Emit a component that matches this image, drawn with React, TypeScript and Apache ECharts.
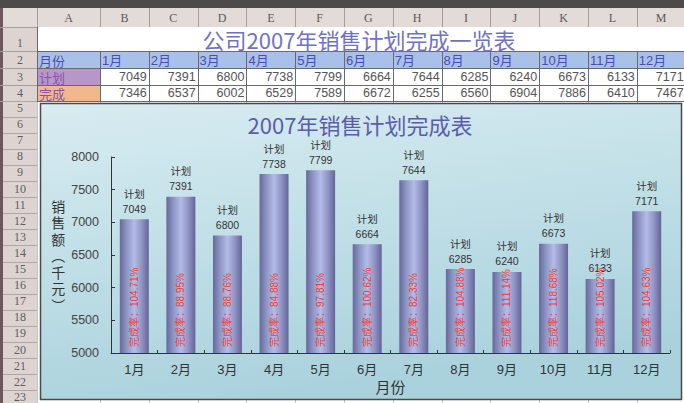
import React, { useEffect, useRef } from 'react';
import * as echarts from 'echarts';

const months = ['1月', '2月', '3月', '4月', '5月', '6月', '7月', '8月', '9月', '10月', '11月', '12月'];
const planValues = [7049, 7391, 6800, 7738, 7799, 6664, 7644, 6285, 6240, 6673, 6133, 7171];
const actualValues = [7346, 6537, 6002, 6529, 7589, 6672, 6255, 6560, 6904, 7886, 6410, 7467];
const completionRates = ['104.71', '88.95', '88.76', '84.88', '97.81', '100.62', '82.33', '104.88', '111.14', '118.68', '105.02', '104.63'];
const yMin = 5000;
const yMax = 8000;
const yStep = 500;
const columnLetters = ['A', 'B', 'C', 'D', 'E', 'F', 'G', 'H', 'I', 'J', 'K', 'L', 'M'];
const rowLabels = ['月份', '计划', '完成'];
const sheetTitle = '公司2007年销售计划完成一览表';
const chartTitle = '2007年销售计划完成表';
const yAxisTitle = '销售额（千元）';
const xAxisTitle = '月份';

const CJK = '"Noto Sans CJK SC", sans-serif';
const LAT = '"Liberation Sans", "Noto Sans CJK SC", sans-serif';
const SERIF = '"Liberation Serif", "DejaVu Serif", serif';

function colStart(i: number) {
  return i === 0 ? 37 : 100 + (i - 1) * 48.8;
}
function colEnd(i: number) {
  return i === 0 ? 100 : 100 + i * 48.8;
}

function buildSheet(): any[] {
  const els: any[] = [];
  const W = 684;
  const H = 403;
  els.push({ type: 'rect', shape: { x: 0, y: 0, width: W, height: H }, style: { fill: '#ffffff' } });
  els.push({ type: 'rect', shape: { x: 37, y: 51, width: W - 37, height: 17 }, style: { fill: '#a9c0e9' } });
  els.push({ type: 'rect', shape: { x: 37, y: 68, width: 63, height: 17 }, style: { fill: '#b996c9' } });
  els.push({ type: 'rect', shape: { x: 37, y: 85, width: 63, height: 16 }, style: { fill: '#f1b98b' } });
  els.push({ type: 'rect', shape: { x: 0, y: 0, width: W, height: 8 }, style: { fill: '#4d4a4a' } });
  els.push({ type: 'rect', shape: { x: 0, y: 8, width: W, height: 19 }, style: { fill: '#e3dbd7' } });
  els.push({ type: 'rect', shape: { x: 0, y: 27, width: 37, height: H - 27 }, style: { fill: '#ddd4d1' } });
  els.push({ type: 'rect', shape: { x: 0, y: 8, width: 3, height: H - 8 }, style: { fill: '#6f555c' } });

  for (let i = 0; i <= columnLetters.length; i++) {
    const x = Math.round(i === 0 ? 37 : colEnd(i - 1)) + 0.5;
    els.push({ type: 'line', shape: { x1: x, y1: 8, x2: x, y2: 27 }, style: { stroke: '#a89e99', lineWidth: 1 } });
    if (i >= 1) {
      els.push({ type: 'line', shape: { x1: x, y1: 51, x2: x, y2: 101 }, style: { stroke: '#6a6a6a', lineWidth: 1 } });
    } else {
      els.push({ type: 'line', shape: { x1: x, y1: 27, x2: x, y2: 101 }, style: { stroke: '#6a6a6a', lineWidth: 1 } });
    }
    els.push({ type: 'line', shape: { x1: x, y1: 101, x2: x, y2: H }, style: { stroke: '#c4c4c4', lineWidth: 1 } });
  }
  const hLines = [27, 51, 68, 85, 101];
  hLines.forEach((y, k) => {
    els.push({ type: 'line', shape: { x1: 0, y1: y + 0.5, x2: 37, y2: y + 0.5 }, style: { stroke: '#a89e99', lineWidth: 1 } });
    if (k >= 1) {
      els.push({ type: 'line', shape: { x1: 37, y1: y + 0.5, x2: W, y2: y + 0.5 }, style: { stroke: '#6a6a6a', lineWidth: 1 } });
    }
  });
  for (let n = 5; n <= 24; n++) {
    const y = Math.round(100.5 + (n - 5) * 16.1) + 0.5;
    els.push({ type: 'line', shape: { x1: 3, y1: y, x2: 37, y2: y }, style: { stroke: '#b0a6a2', lineWidth: 1 } });
  }

  columnLetters.forEach((c, i) => {
    els.push({
      type: 'text',
      x: (colStart(i) + colEnd(i)) / 2,
      y: 18,
      style: { text: c, fill: '#5a5a5a', fontSize: 12, fontFamily: SERIF, align: 'center', verticalAlign: 'middle' },
    });
  });
  const rowY = [43, 60, 77, 93];
  for (let n = 1; n <= 23; n++) {
    const y = n <= 4 ? rowY[n - 1] : 108 + (n - 5) * 16.1;
    els.push({
      type: 'text',
      x: 20,
      y: Math.min(y, 397),
      style: { text: String(n), fill: '#5e5e5e', fontSize: 12, fontFamily: SERIF, align: 'center', verticalAlign: 'middle' },
    });
  }
  els.push({
    type: 'text',
    x: 359,
    y: 39,
    style: { text: sheetTitle, fill: '#7272c4', fontSize: 22, lineHeight: 22, fontFamily: CJK, align: 'center', verticalAlign: 'middle' },
  });
  const labelColors = ['#4d4db0', '#8a52ad', '#8a52ad'];
  rowLabels.forEach((t, k) => {
    els.push({
      type: 'text',
      x: 39,
      y: rowY[k + 1],
      style: { text: t, fill: labelColors[k], fontSize: 13, lineHeight: 14, fontFamily: CJK, align: 'left', verticalAlign: 'middle' },
    });
  });
  months.forEach((m, i) => {
    els.push({
      type: 'text',
      x: colStart(i + 1) + 2,
      y: rowY[1],
      style: { text: m, fill: '#4d4db0', fontSize: 13, lineHeight: 14, fontFamily: LAT, align: 'left', verticalAlign: 'middle' },
    });
    els.push({
      type: 'text',
      x: colEnd(i + 1) - 2,
      y: rowY[2],
      style: { text: String(planValues[i]), fill: '#555555', fontSize: 12.5, lineHeight: 14, fontFamily: LAT, align: 'right', verticalAlign: 'middle' },
    });
    els.push({
      type: 'text',
      x: colEnd(i + 1) - 2,
      y: rowY[3],
      style: { text: String(actualValues[i]), fill: '#555555', fontSize: 12.5, lineHeight: 14, fontFamily: LAT, align: 'right', verticalAlign: 'middle' },
    });
  });

  els.push({
    type: 'rect',
    shape: { x: 40.5, y: 103.5, width: 641, height: 296 },
    style: {
      fill: new echarts.graphic.LinearGradient(0, 0, 0.3, 1, [
        { offset: 0, color: '#d8ecf1' },
        { offset: 1, color: '#aad2dd' },
      ]),
      stroke: '#4a4a4a',
      lineWidth: 1.5,
    },
  });
  els.push({
    type: 'text',
    x: 360,
    y: 124,
    style: { text: chartTitle, fill: '#5c5cac', fontSize: 22, fontFamily: CJK, align: 'center', verticalAlign: 'middle' },
  });
  return els;
}

export default function App() {
  const ref = useRef<HTMLDivElement>(null);
  useEffect(() => {
    document.body.style.margin = '0';
    if (!ref.current) return;
    const chart = echarts.init(ref.current, undefined, { renderer: 'svg' });
    const barGradient = new echarts.graphic.LinearGradient(0, 0, 1, 0, [
      { offset: 0, color: '#68689a' },
      { offset: 0.25, color: '#9097c6' },
      { offset: 0.5, color: '#b3bbe8' },
      { offset: 0.75, color: '#8f95c4' },
      { offset: 1, color: '#646496' },
    ]);
    chart.setOption({
      animation: false,
      graphic: { elements: buildSheet() },
      grid: { left: 111, right: 14, top: 157, bottom: 50, containLabel: false },
      xAxis: {
        type: 'category',
        data: months,
        z: 10,
        name: xAxisTitle,
        nameLocation: 'middle',
        nameGap: 26,
        nameTextStyle: { fontSize: 15, color: '#333', fontFamily: CJK },
        axisLine: { lineStyle: { color: '#333', width: 1 } },
        axisTick: { show: true, inside: true, length: 3, lineStyle: { color: '#333' } },
        axisLabel: { fontSize: 13, color: '#333', margin: 10, fontFamily: LAT },
      },
      yAxis: {
        type: 'value',
        min: yMin,
        max: yMax,
        interval: yStep,
        z: 10,
        name: yAxisTitle.replace('（', '︵').replace('）', '︶').split('').join('\n'),
        nameLocation: 'middle',
        nameGap: 44,
        nameRotate: 0,
        nameTextStyle: { fontSize: 14, lineHeight: 16.5, color: '#333', fontFamily: CJK },
        axisLine: { show: true, lineStyle: { color: '#333', width: 1 } },
        axisTick: { show: true, inside: true, length: 4, lineStyle: { color: '#333' } },
        splitLine: { show: false },
        axisLabel: {
          fontSize: 12.5,
          color: '#444',
          margin: 12,
          fontFamily: LAT,
          formatter: (v: number) => String(v),
        },
      },
      series: [
        {
          type: 'bar',
          data: planValues,
          barWidth: 29,
          itemStyle: { color: barGradient },
          label: {
            show: true,
            position: 'top',
            distance: 3,
            formatter: (p: any) => '计划\n' + p.value,
            fontSize: 10.5,
            lineHeight: 15,
            color: '#333',
            fontFamily: LAT,
          },
        },
        {
          type: 'bar',
          data: planValues,
          barWidth: 29,
          barGap: '-100%',
          itemStyle: { color: 'rgba(0,0,0,0)' },
          label: {
            show: true,
            position: 'insideBottom',
            rotate: 90,
            align: 'left',
            verticalAlign: 'middle',
            distance: 6,
            formatter: (p: any) => '完成率：' + completionRates[p.dataIndex] + '%',
            fontSize: 10,
            color: '#f03e30',
            fontFamily: LAT,
          },
        },
      ],
    });
    return () => chart.dispose();
  }, []);
  return <div ref={ref} style={{ width: 684, height: 403, position: 'absolute', left: 0, top: 0 }} />;
}
